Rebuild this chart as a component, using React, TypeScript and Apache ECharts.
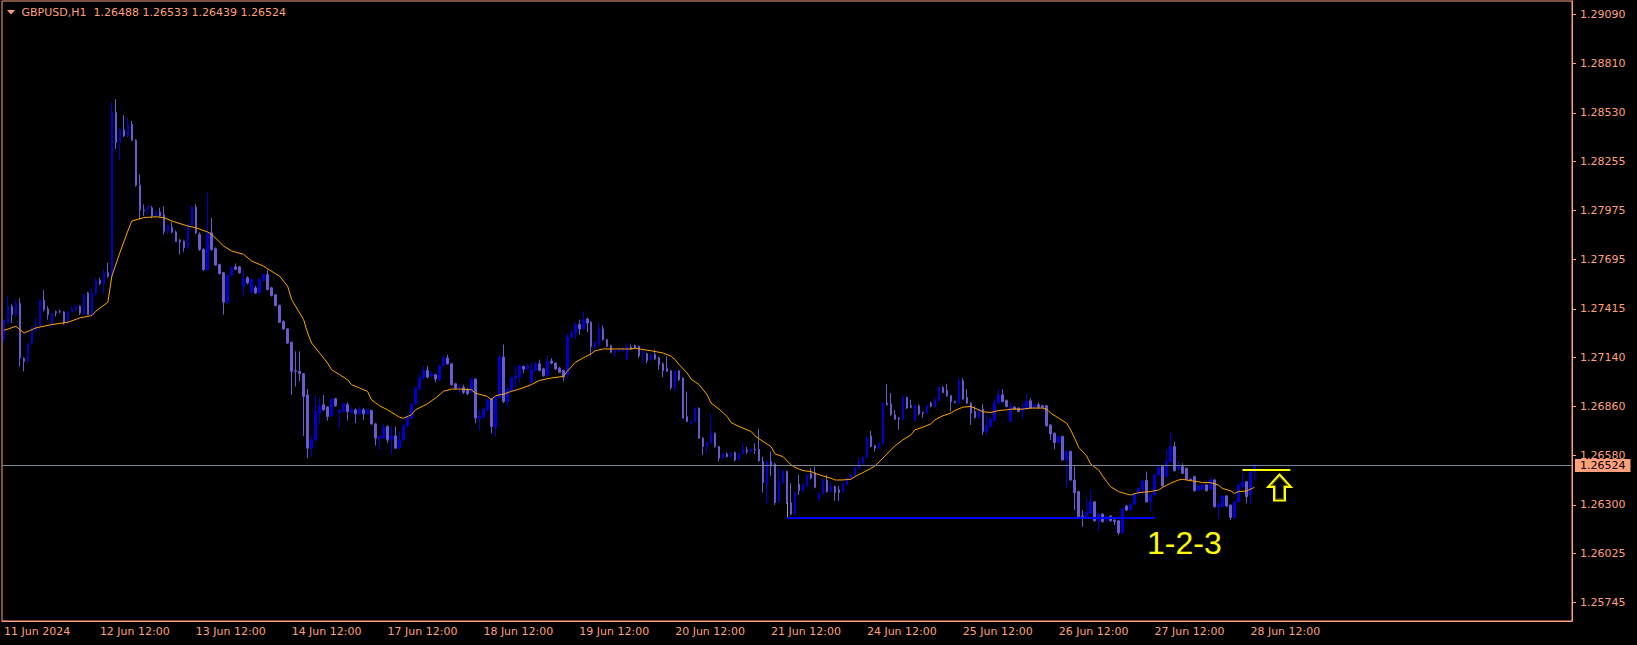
import React, { useEffect, useRef } from 'react';
import * as echarts from 'echarts';

const SYMBOL = 'GBPUSD,H1';
const YEAR = 2024;
const TRADING_DAYS = ['11 Jun', '12 Jun', '13 Jun', '14 Jun', '17 Jun', '18 Jun', '19 Jun', '20 Jun', '21 Jun', '24 Jun', '25 Jun', '26 Jun', '27 Jun', '28 Jun'];
const FIRST_HOUR = 12;
const LAST_HOUR = 13;
const EMPTY_SLOTS = 79;

// hourly candles [open, high, low, close]
const jun11 = [
  [1.27244, 1.2735, 1.27221, 1.2735], [1.27335, 1.27491, 1.2733, 1.27426], [1.2743, 1.2744, 1.27335, 1.27382], [1.27382, 1.27468, 1.2737, 1.27445],
  [1.27445, 1.27477, 1.27088, 1.27136], [1.27132, 1.2714, 1.2706, 1.27117], [1.27117, 1.2722, 1.2711, 1.27217], [1.27221, 1.27316, 1.2721, 1.27293],
  [1.27293, 1.27362, 1.27285, 1.2732], [1.27316, 1.27468, 1.273, 1.27464], [1.27464, 1.27521, 1.274, 1.27411], [1.27415, 1.2743, 1.27354, 1.27383],
];
const jun12 = [
  [1.27325, 1.27392, 1.2731, 1.27388], [1.27399, 1.27405, 1.27372, 1.27392], [1.274, 1.2741, 1.2739, 1.27398], [1.27398, 1.27402, 1.27325, 1.27335],
  [1.27335, 1.274, 1.2733, 1.27398], [1.27398, 1.2743, 1.27395, 1.27413], [1.27413, 1.2744, 1.274, 1.27434], [1.2743, 1.27435, 1.2738, 1.27392],
  [1.27383, 1.275, 1.2738, 1.27495], [1.27506, 1.2751, 1.27383, 1.27383], [1.27383, 1.2753, 1.27375, 1.27506], [1.27506, 1.2759, 1.2749, 1.27576],
  [1.27578, 1.27592, 1.2755, 1.27559], [1.27559, 1.2764, 1.275, 1.2762], [1.2762, 1.27677, 1.2759, 1.27601], [1.27601, 1.2859, 1.2759, 1.28532],
  [1.28532, 1.28608, 1.28323, 1.28361], [1.28361, 1.2844, 1.28262, 1.28433], [1.28433, 1.28517, 1.28392, 1.28399], [1.28399, 1.28503, 1.2839, 1.28465],
  [1.28465, 1.28484, 1.2837, 1.28374], [1.28374, 1.2838, 1.2811, 1.28118], [1.28118, 1.2818, 1.27924, 1.27977], [1.27977, 1.2801, 1.27945, 1.27972],
];
const jun13 = [
  [1.2798, 1.28, 1.27952, 1.28], [1.2799, 1.28, 1.2793, 1.27943], [1.27943, 1.27975, 1.27935, 1.27966], [1.27966, 1.2799, 1.27938, 1.27943],
  [1.2795, 1.27998, 1.27838, 1.27857], [1.27852, 1.27895, 1.27843, 1.2789], [1.2788, 1.27909, 1.27845, 1.27852], [1.27852, 1.2786, 1.27795, 1.27799],
  [1.27806, 1.27812, 1.27725, 1.27795], [1.27799, 1.27805, 1.2774, 1.27763], [1.27763, 1.279, 1.27755, 1.27894], [1.27894, 1.28, 1.2789, 1.27994],
  [1.27994, 1.2801, 1.2784, 1.27848], [1.27838, 1.2785, 1.27745, 1.27753], [1.27753, 1.2776, 1.2763, 1.27639], [1.27639, 1.28076, 1.2763, 1.27848],
  [1.27848, 1.27934, 1.27745, 1.27753], [1.27757, 1.27765, 1.2766, 1.27664], [1.27667, 1.27672, 1.2761, 1.27616], [1.2762, 1.27625, 1.27383, 1.27453],
  [1.27453, 1.2761, 1.27445, 1.27605], [1.27605, 1.2765, 1.276, 1.27649], [1.27654, 1.27673, 1.27635, 1.2764], [1.27654, 1.2766, 1.27615, 1.2762],
];
const jun14 = [
  [1.27544, 1.2763, 1.27483, 1.27586], [1.27592, 1.276, 1.27555, 1.27563], [1.2751, 1.2759, 1.275, 1.27582], [1.27535, 1.27545, 1.275, 1.27506],
  [1.27506, 1.2759, 1.275, 1.27582], [1.27578, 1.27615, 1.2757, 1.2761], [1.2761, 1.27639, 1.2752, 1.27525], [1.27535, 1.2754, 1.27485, 1.27491],
  [1.27495, 1.275, 1.2743, 1.27434], [1.27434, 1.2744, 1.27335, 1.27339], [1.27344, 1.2735, 1.27295, 1.27301], [1.27301, 1.27305, 1.27215, 1.27221],
  [1.27225, 1.2723, 1.26926, 1.2706], [1.27063, 1.27174, 1.26974, 1.2706], [1.2706, 1.27174, 1.27003, 1.27046], [1.27046, 1.2705, 1.26693, 1.26917],
  [1.26926, 1.26959, 1.26566, 1.26623], [1.26623, 1.26693, 1.26575, 1.2667], [1.2667, 1.26926, 1.2666, 1.26832], [1.26822, 1.26908, 1.26756, 1.26864],
  [1.2687, 1.26926, 1.26835, 1.26841], [1.26856, 1.26862, 1.2678, 1.26803], [1.26807, 1.2691, 1.268, 1.26902], [1.26904, 1.2691, 1.26858, 1.26864],
];
const jun17 = [
  [1.26826, 1.26845, 1.26737, 1.26838], [1.26832, 1.2688, 1.26825, 1.26875], [1.2687, 1.26883, 1.2678, 1.26832], [1.26826, 1.26856, 1.2682, 1.26841],
  [1.26841, 1.26848, 1.26765, 1.26818], [1.26818, 1.2686, 1.26812, 1.26845], [1.26841, 1.26851, 1.26784, 1.26818], [1.26818, 1.26848, 1.26812, 1.26841],
  [1.26837, 1.26842, 1.26755, 1.26761], [1.26761, 1.26765, 1.26638, 1.2668], [1.2668, 1.26695, 1.26613, 1.26689], [1.2668, 1.2676, 1.26675, 1.26742],
  [1.26746, 1.26752, 1.26651, 1.2667], [1.2667, 1.26746, 1.26588, 1.26693], [1.26693, 1.26746, 1.26618, 1.26623], [1.26623, 1.26718, 1.26615, 1.2667],
  [1.2667, 1.2676, 1.26665, 1.2675], [1.2675, 1.26813, 1.26745, 1.26799], [1.26793, 1.2688, 1.26788, 1.26875], [1.26875, 1.2697, 1.2687, 1.26965],
  [1.26959, 1.2704, 1.26955, 1.27022], [1.27022, 1.27092, 1.27015, 1.27065], [1.27065, 1.27092, 1.2702, 1.27027], [1.27035, 1.2706, 1.27027, 1.27046],
];
const jun18 = [
  [1.2704, 1.27046, 1.26997, 1.27016], [1.27012, 1.27098, 1.27005, 1.27092], [1.27092, 1.27149, 1.27088, 1.27136], [1.27136, 1.27154, 1.27098, 1.27103],
  [1.27103, 1.27108, 1.26978, 1.26983], [1.26989, 1.26993, 1.26955, 1.26965], [1.26965, 1.26984, 1.26936, 1.26965], [1.2697, 1.26984, 1.2693, 1.2694],
  [1.26951, 1.26965, 1.26925, 1.26932], [1.2694, 1.2702, 1.26935, 1.27016], [1.27016, 1.2702, 1.26765, 1.26794], [1.26788, 1.26841, 1.26723, 1.26803],
  [1.26799, 1.2685, 1.26795, 1.26845], [1.26841, 1.26908, 1.26835, 1.26894], [1.26902, 1.26908, 1.26708, 1.26746], [1.26742, 1.26918, 1.26689, 1.26913],
  [1.26913, 1.2715, 1.26908, 1.27141], [1.27141, 1.27212, 1.2688, 1.26889], [1.26889, 1.26974, 1.26856, 1.26955], [1.26951, 1.2703, 1.26945, 1.27022],
  [1.27021, 1.27092, 1.26974, 1.27034], [1.27027, 1.27095, 1.26993, 1.27092], [1.27088, 1.27092, 1.2705, 1.27073], [1.27073, 1.27107, 1.27068, 1.27088],
];
const jun19 = [
  [1.27002, 1.27111, 1.26993, 1.27069], [1.27065, 1.2711, 1.2706, 1.27103], [1.27103, 1.27126, 1.2706, 1.27065], [1.27073, 1.2708, 1.2703, 1.27035],
  [1.27035, 1.2715, 1.2703, 1.27117], [1.27118, 1.27135, 1.271, 1.27107], [1.27107, 1.27112, 1.27068, 1.27073], [1.27079, 1.27085, 1.2705, 1.27054],
  [1.27065, 1.2707, 1.27003, 1.27027], [1.27041, 1.27275, 1.2702, 1.27255], [1.27255, 1.27297, 1.2725, 1.27278], [1.27278, 1.27335, 1.27244, 1.27326],
  [1.27326, 1.27354, 1.27268, 1.27301], [1.27301, 1.27402, 1.27295, 1.27354], [1.27358, 1.27364, 1.27282, 1.27335], [1.27339, 1.27345, 1.27149, 1.27202],
  [1.27198, 1.2723, 1.27174, 1.27221], [1.27212, 1.27335, 1.27205, 1.27301], [1.27301, 1.2732, 1.27235, 1.2724], [1.2724, 1.27245, 1.27198, 1.27202],
  [1.27206, 1.27212, 1.27163, 1.27168], [1.27168, 1.27185, 1.27141, 1.27179], [1.27174, 1.2719, 1.2717, 1.27183], [1.27177, 1.27198, 1.27172, 1.27193],
];
const jun20 = [
  [1.2713, 1.27221, 1.27125, 1.27198], [1.27198, 1.27212, 1.27182, 1.27187], [1.27206, 1.27212, 1.27188, 1.27193], [1.27202, 1.27206, 1.27136, 1.27149],
  [1.2716, 1.27183, 1.27103, 1.27168], [1.2716, 1.27165, 1.27107, 1.27122], [1.27126, 1.2716, 1.2712, 1.27155], [1.27155, 1.27183, 1.27125, 1.2713],
  [1.27136, 1.27145, 1.27069, 1.27098], [1.27103, 1.2711, 1.27027, 1.27063], [1.27077, 1.27145, 1.27055, 1.2706], [1.27063, 1.27068, 1.26955, 1.26968],
  [1.26968, 1.27068, 1.26945, 1.27063], [1.27063, 1.27068, 1.27005, 1.27012], [1.27022, 1.27025, 1.2679, 1.26794], [1.26803, 1.26945, 1.2677, 1.26775],
  [1.26765, 1.2678, 1.26755, 1.26775], [1.26775, 1.26855, 1.2677, 1.2685], [1.2685, 1.26855, 1.26675, 1.2668], [1.2668, 1.26685, 1.26585, 1.26632],
  [1.26632, 1.2666, 1.26594, 1.26655], [1.26651, 1.26822, 1.26645, 1.26708], [1.26708, 1.26712, 1.26627, 1.26632], [1.26632, 1.26637, 1.26547, 1.26566],
];
const jun21 = [
  [1.26566, 1.26595, 1.2656, 1.2659], [1.2659, 1.26598, 1.2657, 1.26575], [1.26575, 1.266, 1.2657, 1.26594], [1.26598, 1.26604, 1.26547, 1.26556],
  [1.2656, 1.26595, 1.26555, 1.2659], [1.2659, 1.26651, 1.26585, 1.26617], [1.26613, 1.2663, 1.2659, 1.26604], [1.26604, 1.26625, 1.26598, 1.26617],
  [1.26617, 1.26651, 1.2659, 1.26613], [1.26617, 1.26733, 1.26545, 1.26552], [1.26547, 1.26575, 1.2637, 1.26427], [1.26414, 1.2655, 1.26305, 1.26547],
  [1.26547, 1.26604, 1.26465, 1.26522], [1.26533, 1.2654, 1.263, 1.26313], [1.26319, 1.26509, 1.2631, 1.26433], [1.26427, 1.265, 1.2642, 1.2649],
  [1.2649, 1.26495, 1.26305, 1.26313], [1.26313, 1.26423, 1.2624, 1.26248], [1.26248, 1.26375, 1.2624, 1.2637], [1.26419, 1.26471, 1.26357, 1.26381],
  [1.26381, 1.2642, 1.26375, 1.26414], [1.26408, 1.2648, 1.264, 1.26471], [1.2648, 1.26509, 1.26445, 1.26452], [1.26484, 1.26518, 1.26395, 1.264],
];
const jun24 = [
  [1.26332, 1.2637, 1.26324, 1.26362], [1.26362, 1.26447, 1.26355, 1.26442], [1.26442, 1.26471, 1.2637, 1.26376], [1.26376, 1.26433, 1.2637, 1.26404],
  [1.26404, 1.2641, 1.26324, 1.2637], [1.26385, 1.26408, 1.26324, 1.2637], [1.26376, 1.26425, 1.2637, 1.26419], [1.26414, 1.26458, 1.2641, 1.26452],
  [1.26446, 1.26476, 1.2644, 1.26471], [1.26465, 1.26515, 1.2646, 1.26509], [1.26509, 1.26571, 1.26505, 1.26547], [1.26537, 1.26576, 1.2653, 1.26571],
  [1.26571, 1.2669, 1.26565, 1.26685], [1.26693, 1.26721, 1.26628, 1.26632], [1.26636, 1.26642, 1.26604, 1.26623], [1.26623, 1.26656, 1.26618, 1.26651],
  [1.26651, 1.26885, 1.26645, 1.26879], [1.26879, 1.26988, 1.26865, 1.2687], [1.26875, 1.26936, 1.26808, 1.26813], [1.26813, 1.26842, 1.26783, 1.26788],
  [1.26794, 1.268, 1.26727, 1.26788], [1.26788, 1.26927, 1.26783, 1.26911], [1.26911, 1.26916, 1.26846, 1.26851], [1.26864, 1.26898, 1.2685, 1.26856],
];
const jun25 = [
  [1.2678, 1.2687, 1.26775, 1.26864], [1.26864, 1.2687, 1.26813, 1.26818], [1.26826, 1.2683, 1.26797, 1.26822], [1.26822, 1.2687, 1.26817, 1.26864],
  [1.26879, 1.26888, 1.26855, 1.2686], [1.2686, 1.2691, 1.26855, 1.26898], [1.26894, 1.26975, 1.2689, 1.26968], [1.26968, 1.26975, 1.26935, 1.2694],
  [1.26951, 1.26989, 1.26915, 1.26921], [1.26921, 1.26926, 1.26832, 1.26888], [1.26888, 1.26893, 1.26878, 1.26883], [1.26879, 1.27025, 1.26874, 1.27006],
  [1.27006, 1.27021, 1.26897, 1.26902], [1.26911, 1.26959, 1.26874, 1.26879], [1.26879, 1.26884, 1.26755, 1.26822], [1.26832, 1.2686, 1.26792, 1.26797],
  [1.26797, 1.2685, 1.26792, 1.26845], [1.26845, 1.26875, 1.26698, 1.26718], [1.26718, 1.26813, 1.26698, 1.26746], [1.26746, 1.26795, 1.2674, 1.26788],
  [1.2678, 1.269, 1.26775, 1.26879], [1.26879, 1.26959, 1.26874, 1.26926], [1.26926, 1.26959, 1.26883, 1.26888], [1.26894, 1.269, 1.26855, 1.2686],
];
const jun26 = [
  [1.26775, 1.26883, 1.2677, 1.26856], [1.26856, 1.26862, 1.2684, 1.26845], [1.26851, 1.26856, 1.26827, 1.26832], [1.26838, 1.26883, 1.26788, 1.26851],
  [1.26845, 1.26932, 1.2684, 1.26892], [1.26892, 1.26907, 1.26846, 1.26851], [1.26851, 1.26875, 1.26846, 1.2687], [1.2687, 1.26883, 1.26845, 1.26856],
  [1.26864, 1.26869, 1.26851, 1.26856], [1.26864, 1.26869, 1.26745, 1.2675], [1.26755, 1.2676, 1.2667, 1.26704], [1.26708, 1.26713, 1.26617, 1.26655],
  [1.26655, 1.26694, 1.2665, 1.26689], [1.26689, 1.26694, 1.26551, 1.26556], [1.26556, 1.26609, 1.26395, 1.26604], [1.26604, 1.26609, 1.26437, 1.26442],
  [1.26442, 1.26518, 1.26271, 1.2637], [1.26376, 1.26381, 1.26228, 1.26233], [1.26237, 1.26271, 1.26176, 1.26233], [1.26233, 1.26337, 1.26228, 1.26256],
  [1.26252, 1.26385, 1.26247, 1.26318], [1.26318, 1.26323, 1.26205, 1.2621], [1.2621, 1.26253, 1.26153, 1.26248], [1.26248, 1.26253, 1.262, 1.26205],
];
const jun27 = [
  [1.26218, 1.26238, 1.26195, 1.26233], [1.26237, 1.26242, 1.26205, 1.2621], [1.26214, 1.26219, 1.26185, 1.26205], [1.2621, 1.26215, 1.26129, 1.26142],
  [1.26142, 1.26285, 1.26137, 1.2628], [1.26294, 1.26299, 1.26266, 1.26271], [1.26271, 1.2631, 1.26266, 1.26305], [1.26305, 1.26367, 1.263, 1.26362],
  [1.26362, 1.264, 1.26357, 1.26395], [1.2639, 1.2644, 1.26365, 1.26436], [1.2644, 1.2649, 1.26313, 1.26318], [1.26318, 1.26362, 1.26262, 1.26357],
  [1.26357, 1.26475, 1.26352, 1.2647], [1.2647, 1.26519, 1.26465, 1.26514], [1.26518, 1.26523, 1.26403, 1.26408], [1.26461, 1.26613, 1.26456, 1.26546],
  [1.26546, 1.26708, 1.26541, 1.26632], [1.26632, 1.2666, 1.2649, 1.26495], [1.26505, 1.2655, 1.265, 1.26518], [1.26518, 1.26537, 1.26475, 1.2648],
  [1.26508, 1.26513, 1.26441, 1.26446], [1.26446, 1.26451, 1.26437, 1.26442], [1.26461, 1.26466, 1.26376, 1.26381], [1.26381, 1.26413, 1.26376, 1.26408],
];
const jun28 = [
  [1.2639, 1.26419, 1.26385, 1.26414], [1.26414, 1.26419, 1.26376, 1.26381], [1.26389, 1.26456, 1.26384, 1.26442], [1.26442, 1.26447, 1.26285, 1.2629],
  [1.2629, 1.26318, 1.26224, 1.263], [1.2629, 1.26356, 1.26285, 1.26351], [1.26351, 1.26356, 1.26289, 1.26294], [1.26299, 1.26304, 1.26215, 1.26229],
  [1.26229, 1.26323, 1.2622, 1.26318], [1.26318, 1.26419, 1.26313, 1.26414], [1.26404, 1.2648, 1.26399, 1.26432], [1.26432, 1.26437, 1.26309, 1.26347],
  [1.2636, 1.265, 1.26309, 1.26488], [1.26488, 1.26533, 1.26439, 1.26524],
];

// moving average: bar index -> value
const maBars = [0, 3, 5, 8, 12, 16, 19, 22, 23, 26, 27, 29, 31, 32, 35, 38, 40, 42, 46, 48, 51, 52, 55, 57, 60, 62, 65, 66, 69, 71, 72, 75, 76, 77, 79, 81, 82, 84, 86, 87, 89, 91, 92, 94, 96, 98, 99, 100, 102, 103, 106, 108, 110, 112, 114, 117, 118, 121, 122, 123, 125, 127, 129, 132, 134, 137, 140, 141, 143, 145, 147, 148, 150, 153, 157, 158, 160, 162, 165, 167, 168, 169, 171, 172, 174, 176, 177, 179, 181, 182, 184, 187, 188, 190, 192, 193, 195, 197, 198, 200, 202, 203, 205, 207, 208, 210, 212, 213, 215, 217, 218, 220, 222, 223, 225, 227, 228, 230, 232, 233, 235, 237, 238, 240, 242, 243, 245, 247, 249, 251, 252, 255, 257, 260, 261, 262, 264, 266, 267, 268, 269, 271, 272, 274, 275, 276, 277, 279, 281, 282, 284, 287, 289, 290, 292, 294, 295, 297, 299, 300, 302, 304, 305, 307, 308, 309, 311, 313];
const maValues = [1.27293, 1.27316, 1.27278, 1.27307, 1.27326, 1.27339, 1.27364, 1.27377, 1.27402, 1.27453, 1.27601, 1.27734, 1.27858, 1.27915, 1.27934, 1.27939, 1.27934, 1.27915, 1.27886, 1.27877, 1.27852, 1.27839, 1.27772, 1.27744, 1.27725, 1.27687, 1.27658, 1.27643, 1.27601, 1.27544, 1.27468, 1.27354, 1.27278, 1.27221, 1.27164, 1.27107, 1.27069, 1.27041, 1.27012, 1.26984, 1.26965, 1.26946, 1.26898, 1.26864, 1.26841, 1.26813, 1.26799, 1.26793, 1.26813, 1.26841, 1.26875, 1.26908, 1.26946, 1.26959, 1.26959, 1.26955, 1.26936, 1.26917, 1.26898, 1.26921, 1.2693, 1.26946, 1.26959, 1.26984, 1.27008, 1.27022, 1.27031, 1.2706, 1.27111, 1.27136, 1.2716, 1.27177, 1.27187, 1.27187, 1.27187, 1.27192, 1.27183, 1.27177, 1.27164, 1.27145, 1.27126, 1.27098, 1.2705, 1.27016, 1.26984, 1.26927, 1.26879, 1.26845, 1.26803, 1.26769, 1.26746, 1.26718, 1.26693, 1.26661, 1.26632, 1.2659, 1.26575, 1.26528, 1.26514, 1.26495, 1.2649, 1.2648, 1.26465, 1.26452, 1.26442, 1.26442, 1.26446, 1.26461, 1.26484, 1.26508, 1.26522, 1.26566, 1.26613, 1.26636, 1.2667, 1.26698, 1.26727, 1.26742, 1.26761, 1.26784, 1.26807, 1.26822, 1.26837, 1.26856, 1.2686, 1.26851, 1.2683, 1.26826, 1.26837, 1.26841, 1.26845, 1.26845, 1.26851, 1.26851, 1.26845, 1.26822, 1.26794, 1.26765, 1.26727, 1.2668, 1.26628, 1.26579, 1.26533, 1.26499, 1.26465, 1.26433, 1.26404, 1.26376, 1.26362, 1.26357, 1.2637, 1.26376, 1.26385, 1.264, 1.26423, 1.26442, 1.26446, 1.26438, 1.26432, 1.26427, 1.26427, 1.26413, 1.26394, 1.26381, 1.26366, 1.26376, 1.26379, 1.264];

const Y_TICKS = [1.2909, 1.2881, 1.2853, 1.28255, 1.27975, 1.27695, 1.27415, 1.2714, 1.2686, 1.2658, 1.263, 1.26025, 1.25745];
const Y_MIN = 1.2564;
const Y_MAX = 1.29166;

// drawn objects
const SUPPORT_LEVEL = 1.26227;
const SUPPORT_FROM = 196;
const SUPPORT_TO = 288;
const ANCHOR_TOP = 1.26313;
const BREAK_LEVEL = 1.26501;
const BREAK_FROM = 310;
const BREAK_TO = 322;
const PATTERN_LABEL = '1-2-3';

const FG = '#FFA07A';
const BULL = '#0000CD';
const BEAR = '#6A5ACD';
const FONT = '"DejaVu Sans", Tahoma, sans-serif';

const candles = [...jun11, ...jun12, ...jun13, ...jun14, ...jun17, ...jun18, ...jun19, ...jun20, ...jun21, ...jun24, ...jun25, ...jun26, ...jun27, ...jun28];

export default function App() {
  const ref = useRef<HTMLDivElement>(null);

  useEffect(() => {
    document.body.style.margin = '0';
    document.body.style.background = '#000';
    if (!ref.current) return;
    const chart = echarts.init(ref.current, undefined, { renderer: 'svg' });

    const categories: string[] = [];
    TRADING_DAYS.forEach((d, di) => {
      const start = di === 0 ? FIRST_HOUR : 0;
      const end = di === TRADING_DAYS.length - 1 ? LAST_HOUR : 23;
      for (let h = start; h <= end; h++) categories.push(`${d} ${String(h).padStart(2, '0')}:00`);
    });
    const nBars = categories.length;
    for (let k = 0; k < EMPTY_SLOTS; k++) categories.push(`_${k}`);

    const candleData = candles.map(([o, h, l, c]) => [o, c, l, h]);
    const maData: (number | null)[] = new Array(nBars).fill(null);
    maBars.forEach((b, k) => { maData[b] = maValues[k]; });

    const last = candles[candles.length - 1];
    const lastClose = last[3];
    const title = `${SYMBOL}\u00a0\u00a0${last.map((v) => v.toFixed(5)).join(' ')}`;

    const showLabel = (index: number, value: string) =>
      index < nBars && (index === 0 || String(value).endsWith(' 12:00'));

    chart.setOption({
      animation: false,
      backgroundColor: '#000',
      grid: { left: 2, top: 1, width: 1570, height: 620, show: true, borderColor: FG, borderWidth: 1, backgroundColor: '#000' },
      xAxis: {
        type: 'category',
        data: categories,
        boundaryGap: true,
        axisLine: { lineStyle: { color: FG, width: 1 } },
        axisTick: { interval: showLabel, alignWithLabel: true, length: 4, lineStyle: { color: FG } },
        axisLabel: {
          interval: showLabel,
          formatter: (v: string, i: number) => (i === 0 ? `${TRADING_DAYS[0]} ${YEAR}` : v),
          color: FG, fontFamily: FONT, fontSize: 11, align: 'left', margin: 5,
        },
        splitLine: { show: false },
      },
      yAxis: {
        type: 'value',
        position: 'right',
        min: Y_MIN,
        max: Y_MAX,
        axisLine: { show: true, lineStyle: { color: FG, width: 1 } },
        axisTick: { show: true, customValues: Y_TICKS, length: 4, lineStyle: { color: FG } },
        axisLabel: { customValues: Y_TICKS, formatter: (v: number) => v.toFixed(5), color: FG, fontFamily: FONT, fontSize: 11, margin: 8 },
        splitLine: { show: false },
      },
      series: [
        {
          type: 'candlestick',
          data: candleData,
          barWidth: 2,
          itemStyle: { color: BULL, color0: BEAR, borderColor: BULL, borderColor0: BEAR, borderWidth: 1 },
          emphasis: { disabled: true },
          z: 2,
          markLine: {
            silent: true,
            precision: 5,
            symbol: ['none', 'none'],
            animation: false,
            emphasis: { disabled: true },
            label: { show: false },
            data: [
              [
                { coord: [SUPPORT_FROM, ANCHOR_TOP], lineStyle: { color: '#A0A0A0', width: 1, type: 'solid' } },
                { coord: [SUPPORT_FROM, SUPPORT_LEVEL] },
              ],
            ],
          },
        },
        {
          type: 'line',
          data: maData,
          connectNulls: true,
          showSymbol: false,
          symbol: 'none',
          lineStyle: { color: '#FFA500', width: 1 },
          emphasis: { disabled: true },
          z: 3,
          markLine: {
            silent: true,
            precision: 5,
            symbol: ['none', 'none'],
            animation: false,
            emphasis: { disabled: true },
            data: [
              {
                yAxis: lastClose,
                lineStyle: { color: '#778899', width: 1, type: 'solid' },
                label: {
                  show: true, position: 'end', distance: 3,
                  formatter: () => lastClose.toFixed(5),
                  backgroundColor: FG, color: '#000', fontFamily: FONT, fontSize: 11,
                  padding: [1, 5, 1, 5],
                },
              },
              [
                { coord: [SUPPORT_FROM, SUPPORT_LEVEL], lineStyle: { color: '#0000FF', width: 2, type: 'solid' }, label: { show: false } },
                { coord: [SUPPORT_TO, SUPPORT_LEVEL] },
              ],
              [
                { coord: [BREAK_FROM, BREAK_LEVEL], lineStyle: { color: '#FFFF00', width: 2, type: 'solid' }, label: { show: false } },
                { coord: [BREAK_TO, BREAK_LEVEL] },
              ],
            ],
          },
        },
      ],
      graphic: [
        { type: 'polygon', shape: { points: [[7, 10], [15, 10], [11, 14.5]] }, style: { fill: FG }, silent: true },
        {
          type: 'text', x: 21.5, y: 12.7, silent: true,
          style: { text: title, fill: FG, fontFamily: FONT, fontSize: 11, verticalAlign: 'middle', align: 'left' },
        },
        {
          type: 'text', x: 1147, y: 543, silent: true,
          style: { text: PATTERN_LABEL, fill: '#FFFF00', fontFamily: '"Liberation Sans", Arial, sans-serif', fontSize: 32, verticalAlign: 'middle', align: 'left' },
        },
        {
          type: 'polygon', silent: true,
          shape: { points: [[1279.5, 474.5], [1291, 487], [1285, 487], [1285, 500.5], [1274, 500.5], [1274, 487], [1268, 487]] },
          style: { fill: 'none', stroke: '#FFFF00', lineWidth: 2 },
        },
        {
          type: 'polygon', silent: true,
          shape: { points: [[1279.5, 477], [1287.5, 485.5], [1283.5, 485.5], [1283.5, 499], [1275.5, 499], [1275.5, 485.5], [1271.5, 485.5]] },
          style: { fill: 'none', stroke: '#6B6B00', lineWidth: 1 },
        },
      ],
    });

    return () => chart.dispose();
  }, []);

  return <div ref={ref} style={{ width: 1637, height: 645, background: '#000' }} />;
}
